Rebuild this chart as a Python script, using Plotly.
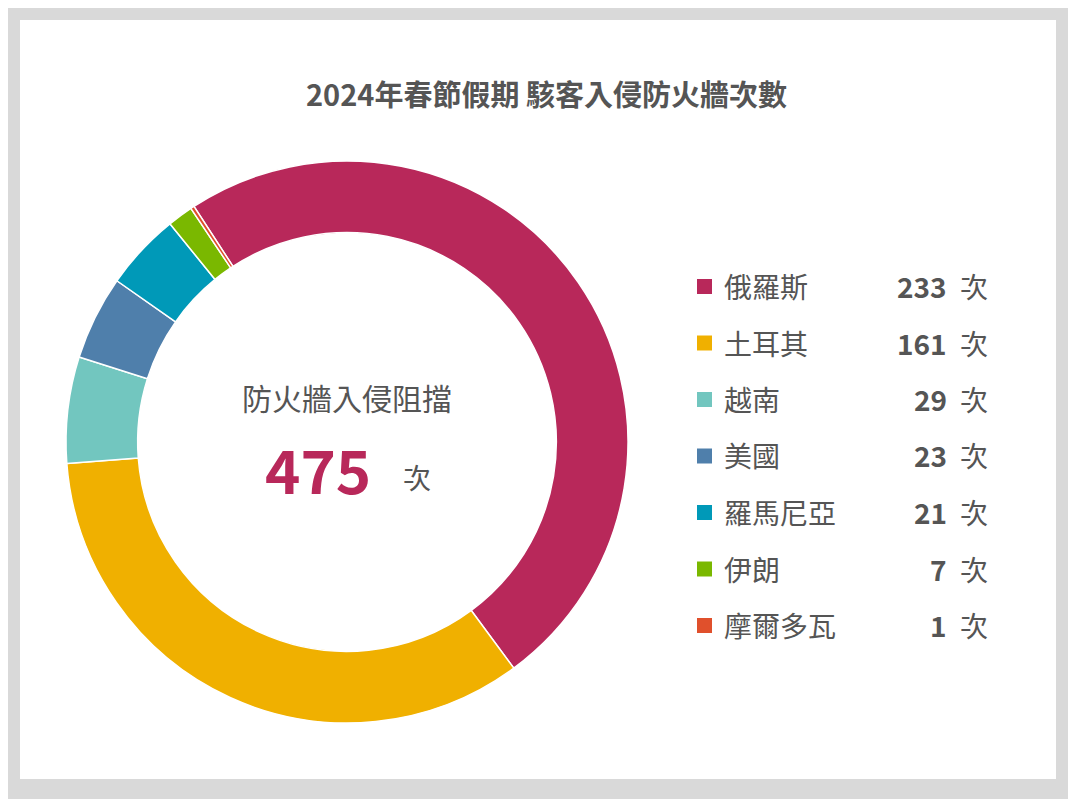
import plotly.graph_objects as go

countries = ["俄羅斯", "土耳其", "越南", "美國", "羅馬尼亞", "伊朗", "摩爾多瓦"]
counts = [233, 161, 29, 23, 21, 7, 1]
colors = ["#b8285a", "#f0b000", "#72c6bf", "#4f7fab", "#0099b8", "#7ab800", "#e0502c"]
title = "2024年春節假期 駭客入侵防火牆次數"
center_label = "防火牆入侵阻擋"
unit = "次"

W, H = 1076, 799
OFF = 8  # page body margin
FONT = "Noto Sans CJK TC"
GREY = "#555555"


def px(x):
    return (x - OFF) / W


def py(y):
    return 1 - (y - OFF) / H


fig = go.Figure(go.Pie(
    labels=countries, values=counts, sort=False, direction="clockwise",
    rotation=-33, hole=0.745,
    marker=dict(colors=colors, line=dict(color="white", width=1.5)),
    textinfo="none", hoverinfo="label+value", showlegend=False,
    domain=dict(x=[px(66), px(628)], y=[py(723), py(161)]),
))

shapes = [
    dict(type="rect", xref="paper", yref="paper", x0=-0.05, x1=1.05, y0=-0.05, y1=1.05,
         fillcolor="#d9d9d9", line_width=0, layer="below"),
    dict(type="rect", xref="paper", yref="paper", x0=px(20), x1=px(1056),
         y0=py(779), y1=py(20), fillcolor="white", line_width=0, layer="below"),
]
annotations = [
    dict(text="<b>" + title + "</b>", x=px(546), y=py(93),
         font=dict(size=29, color=GREY, family=FONT)),
    dict(text=center_label, x=px(347), y=py(397), font=dict(size=30, color=GREY, family=FONT)),
    dict(text="<b>%d</b>" % sum(counts), x=px(318), y=py(467),
         font=dict(size=60, color=colors[0], family=FONT)),
    dict(text=unit, x=px(417), y=py(477), font=dict(size=28, color=GREY, family=FONT)),
]

row_y = 286
for name, n, c in zip(countries, counts, colors):
    shapes.append(dict(type="rect", xref="paper", yref="paper",
                       x0=px(697), x1=px(712), y0=py(row_y + 8), y1=py(row_y - 7),
                       fillcolor=c, line_width=0))
    annotations.append(dict(text=name, x=px(722), y=py(row_y), xanchor="left",
                            font=dict(size=28, color=GREY, family=FONT)))
    annotations.append(dict(text="<b>%d</b>" % n, x=px(949), y=py(row_y), xanchor="right",
                            font=dict(size=28, color=GREY, family=FONT)))
    annotations.append(dict(text=unit, x=px(958), y=py(row_y), xanchor="left",
                            font=dict(size=28, color=GREY, family=FONT)))
    row_y += 56.5

for a in annotations:
    a.update(xref="paper", yref="paper", showarrow=False, yanchor="middle",
             xanchor=a.get("xanchor", "center"))

fig.update_layout(width=W, height=H, margin=dict(l=0, r=0, t=0, b=0),
                  paper_bgcolor="#d9d9d9", plot_bgcolor="white",
                  shapes=shapes, annotations=annotations)
fig.write_html("out.html")
